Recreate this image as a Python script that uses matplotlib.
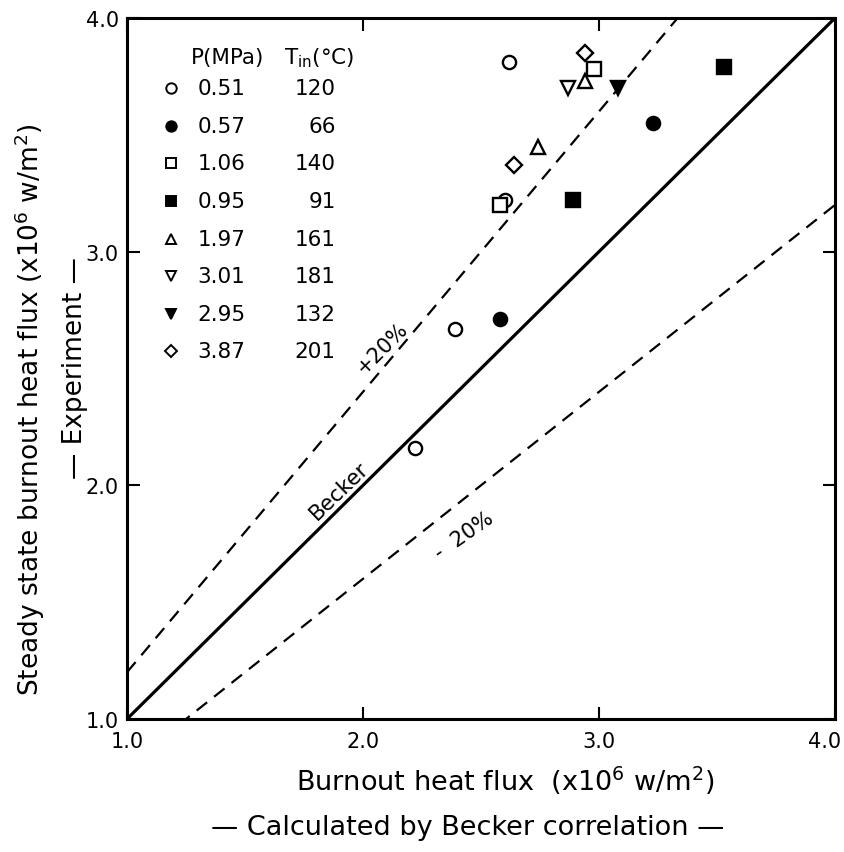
import matplotlib
matplotlib.use("Agg")
import matplotlib.pyplot as plt
import matplotlib.transforms as mtransforms
import numpy as np

plt.rcParams["font.family"] = ["DejaVu Sans"]
plt.rcParams["mathtext.default"] = "regular"

# pressure / inlet temperature of each run (legend rows)
pressures = ["0.51", "0.57", "1.06", "0.95", "1.97", "3.01", "2.95", "3.87"]
inlet_temps = ["120", "66", "140", "91", "161", "181", "132", "201"]
markers = ["o", "o", "s", "s", "^", "v", "v", "D"]
filled = [False, True, False, True, False, False, True, False]

# calculated (Becker) vs measured burnout heat flux, x10^6 W/m^2
calc_flux = [
    [2.62, 2.60, 2.39, 2.22],
    [3.23, 2.58],
    [2.98, 2.58],
    [3.53, 2.89],
    [2.94, 2.74],
    [2.87],
    [3.08],
    [2.94, 2.64],
]
exp_flux = [
    [3.81, 3.22, 2.67, 2.16],
    [3.55, 2.71],
    [3.78, 3.20],
    [3.79, 3.22],
    [3.73, 3.45],
    [3.70],
    [3.70],
    [3.85, 3.37],
]

ticks = [1.0, 2.0, 3.0, 4.0]
tick_labels = ["1.0", "2.0", "3.0", "4.0"]

fig = plt.figure(figsize=(8.44, 8.53), dpi=100)
ax = fig.add_axes([127 / 844, 1 - 720 / 853, 708 / 844, 701 / 853])

# Becker line and +/-20 % band
xl = np.array([1.0, 4.0])
ax.plot(xl, xl, color="black", lw=2.3)
ax.plot(xl, 1.2 * xl, color="black", lw=1.6, dashes=(6, 4))
ax.plot(xl, 0.8 * xl, color="black", lw=1.6, dashes=(6, 4))

for i in range(len(pressures)):
    ms = 8 if markers[i] == "D" else 9.5
    ax.plot(calc_flux[i], exp_flux[i], linestyle="none", marker=markers[i],
            ms=ms, mew=1.7, mec="black",
            mfc="black" if filled[i] else "white", zorder=3)

# hand-drawn legend table
ax.text(1.27, 3.833, "P(MPa)", fontsize=15.5, va="center", ha="left")
ax.text(1.665, 3.833, r"T$_{in}$(°C)", fontsize=15.5, va="center", ha="left")
for i in range(len(pressures)):
    yy = 3.70 - 0.161 * i
    ms = 6 if markers[i] == "D" else 7.5
    ax.plot([1.185], [yy], linestyle="none", marker=markers[i], ms=ms, mew=1.4,
            mec="black", mfc="black" if filled[i] else "white")
    ax.text(1.30, yy, pressures[i], fontsize=15.5, va="center", ha="left")
    ax.text(1.885, yy, inlet_temps[i], fontsize=15.5, va="center", ha="right")

ax.text(1.90, 1.98, "Becker", fontsize=15.5, rotation=44, ha="center",
        va="center", rotation_mode="anchor")
ax.text(2.08, 2.59, "+20%", fontsize=15, rotation=45, ha="center",
        va="center", rotation_mode="anchor")
ax.text(2.43, 1.79, "-  20%", fontsize=15, rotation=35, ha="center",
        va="center", rotation_mode="anchor")

ax.set_xlim(1.0, 4.0)
ax.set_ylim(1.0, 4.0)
ax.set_xticks(ticks)
ax.set_xticklabels(tick_labels)
ax.set_yticks(ticks)
ax.set_yticklabels(tick_labels)
ax.tick_params(direction="in", length=9, width=1.5, top=True, right=True,
               labelsize=15)
ax.tick_params(axis="x", pad=9)
ax.tick_params(axis="y", pad=6)
for sp in ax.spines.values():
    sp.set_linewidth(2.2)

# last x tick label sits at the figure edge, nudge it inside
shift = mtransforms.ScaledTranslation(-10 / 100, 0, fig.dpi_scale_trans)
last = ax.get_xticklabels()[-1]
last.set_transform(last.get_transform() + shift)

fig.text(30 / 844, 1 - 410 / 853,
         r"Steady state burnout heat flux (x10$^6$ w/m$^2$)",
         rotation=90, fontsize=19, ha="center", va="center")
fig.text(75 / 844, 1 - 368 / 853, "— Experiment —",
         rotation=90, fontsize=19, ha="center", va="center")
fig.text(505 / 844, 1 - 781 / 853, r"Burnout heat flux  (x10$^6$ w/m$^2$)",
         fontsize=19.5, ha="center", va="center")
fig.text(468 / 844, 1 - 828 / 853, "— Calculated by Becker correlation —",
         fontsize=19.5, ha="center", va="center")

fig.savefig("out.png", dpi=100)
